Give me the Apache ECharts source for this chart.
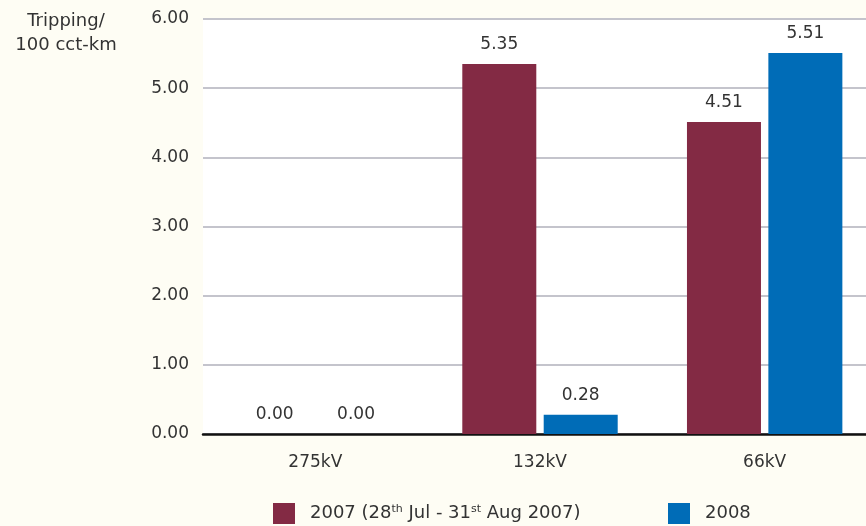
<!DOCTYPE html>
<html lang="en">
<head>
    <meta charset="UTF-8">
    <title>Tripping per 100 cct-km</title>
    <script src="https://cdn.jsdelivr.net/npm/echarts@6/dist/echarts.min.js"></script>
    <style>
        html, body { margin: 0; padding: 0; background: #fefdf4; }
    </style>
</head>
<body>
    <div id="main" style="width: 866px;height:526px;"></div>
    <script type="text/javascript">
       var categories = ['275kV', '132kV', '66kV'];
       var values2007 = [0.00, 5.35, 4.51];
       var values2008 = [0.00, 0.28, 5.51];
       var yTicks = [0, 6, 1]; // min, max, interval

       var myChart = echarts.init(document.getElementById("main"));
       var font = 'DejaVu Sans';

       var labelStyle = {
           show: true,
           position: 'top',
           distance: 11,
           color: '#333',
           fontSize: 17,
           fontFamily: font,
           formatter: function (p) { return p.value.toFixed(2); }
       };

       var legendText = {
           color: '#333', fontSize: 18, fontFamily: font, padding: [0, 0, 0, 10],
           rich: {
               sup: { fontSize: 11, verticalAlign: 'top', padding: [0, 0, 8, 0], color: '#333', fontFamily: font }
           }
       };

       var option = {
           backgroundColor: '#fefdf4',
           textStyle: { fontFamily: font },
           grid: {
               left: 203, width: 674, top: 19, height: 415,
               outerBoundsMode: 'none',
               show: true, backgroundColor: '#ffffff', borderWidth: 0
           },
           graphic: [{
               type: 'text',
               x: 66, y: 9,
               style: {
                   text: 'Tripping/\n100 cct-km',
                   fill: '#333', fontSize: 18, fontFamily: font,
                   align: 'center', lineHeight: 24
               }
           }],
           legend: [{
               left: 273, top: 503, padding: 0,
               itemWidth: 22, itemHeight: 21,
               icon: 'rect',
               data: ['2007'],
               formatter: function () {
                   return '2007 (28{sup|th} Jul - 31{sup|st} Aug 2007)';
               },
               textStyle: legendText
           }, {
               left: 668, top: 503, padding: 0,
               itemWidth: 22, itemHeight: 21,
               icon: 'rect',
               data: ['2008'],
               textStyle: legendText
           }],
           xAxis: {
               type: 'category',
               data: categories,
               axisLine: { lineStyle: { color: '#111', width: 2.5 } },
               axisTick: { show: false },
               axisLabel: { color: '#333', fontSize: 17, fontFamily: font, margin: 20 }
           },
           yAxis: {
               type: 'value',
               min: yTicks[0], max: yTicks[1], interval: yTicks[2],
               axisLine: { show: false },
               axisTick: { show: false },
               splitLine: { lineStyle: { color: '#c4c4cc', width: 2 } },
               axisLabel: {
                   color: '#333', fontSize: 17, fontFamily: font, margin: 14,
                   formatter: function (v) { return v.toFixed(2); }
               }
           },
           series: [{
               name: '2007',
               type: 'bar',
               data: values2007,
               barWidth: 74,
               barGap: '10%',
               itemStyle: { color: '#832a44' },
               label: labelStyle
           }, {
               name: '2008',
               type: 'bar',
               data: values2008,
               barWidth: 74,
               barGap: '10%',
               itemStyle: { color: '#006cb7' },
               label: labelStyle
           }]
       };

       myChart.setOption(option);
    </script>
</body>
</html>
